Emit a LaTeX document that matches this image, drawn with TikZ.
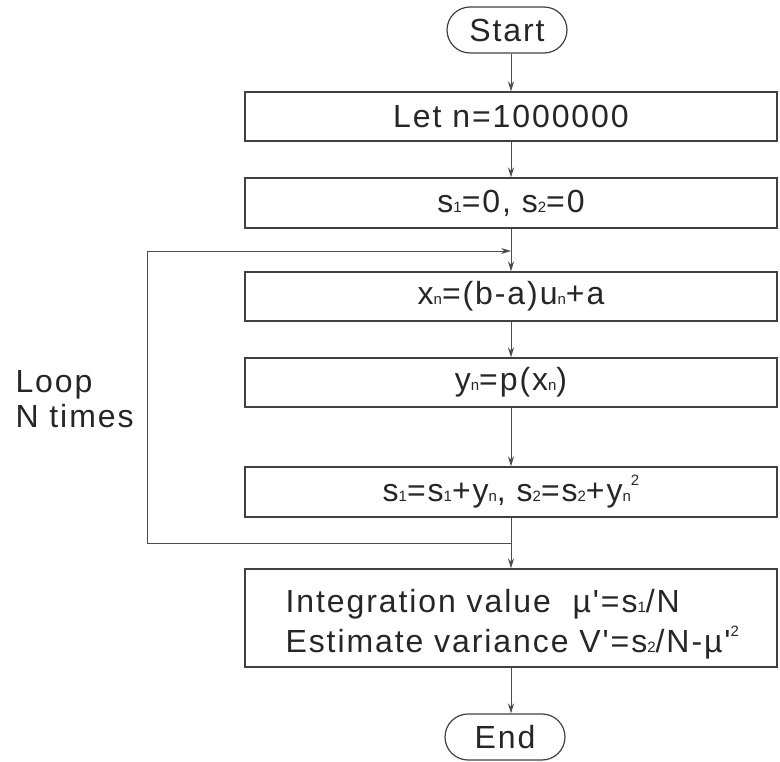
\documentclass[tikz,border=0pt]{standalone}
\usepackage{fontspec}
\setmainfont{Liberation Sans}[Ligatures=TeXOff,LetterSpace=6]
\usetikzlibrary{arrows.meta}
% small index digits and letters sitting on the baseline
\newcommand{\ix}[1]{{\fontsize{15}{15}\selectfont #1}}
% small raised square sign
\newcommand{\sq}{\raisebox{16pt}{\fontsize{15}{15}\selectfont 2}}
\begin{document}
\begin{tikzpicture}[x=1pt,y=-1pt,
  every node/.style={font=\fontsize{32}{40}\selectfont, text=black!85},
  stepbox/.style={draw=black!75, line width=1.2pt, minimum width=532pt, inner sep=0pt},
  term/.style={draw=black!75, line width=1.2pt, minimum width=120pt, minimum height=46pt, rounded corners=23pt, inner sep=0pt},
  arr/.style={draw=black!70, line width=0.9pt, -{Stealth[length=10pt,width=6pt]}},
  ln/.style={draw=black!70, line width=0.9pt}]
\useasboundingbox (0,0) rectangle (780,762);

\node[term] (start) at (507,30) {Start};
\node[stepbox, minimum height=49pt] (b1) at (511,116.5) {Let n=1000000};
\node[stepbox, minimum height=50pt] (b2) at (511,203) {s\ix{1}=0, s\ix{2}=0};
\node[stepbox, minimum height=49pt] (b3) at (511,296.5) {x\ix{n}=(b-a)u\ix{n}+a};
\node[stepbox, minimum height=49pt] (b4) at (511,382.5) {y\ix{n}=p(x\ix{n})};
\node[stepbox, minimum height=50pt] (b5) at (511,492) {s\ix{1}=s\ix{1}+y\ix{n}, s\ix{2}=s\ix{2}+y\ix{n}\sq};
\node[stepbox, minimum height=98pt] (b6) at (511,618) {};
\node[anchor=base west] (t1) at (282,612) {Integration value\ \ µ'=s\ix{1}/N};
\node[anchor=base west] (t2) at (282,652) {Estimate variance V'=s\ix{2}/N-µ'\sq};
\node[term] (end) at (505,737) {End};

\node[anchor=base west, align=left] (loop1) at (12,392) {Loop};
\node[anchor=base west, align=left] (loop2) at (12,428) {N times};

\draw[arr] (start.south -| b1.north) -- (b1.north);
\draw[arr] (b1) -- (b2);
\draw[arr] (b2) -- (b3);
\draw[arr] (b3) -- (b4);
\draw[arr] (b4) -- (b5);
\draw[arr] (b5) -- (b6);
\draw[arr] (b6.south) -- (b6.south |- end.north);

% return path of the loop
\coordinate (lb) at (147,543);
\coordinate (lt) at (147,251);
\draw[arr] (b5.south |- lb) -- (lb) -- (lt) -- (b3.north |- lt);
\end{tikzpicture}
\end{document}
